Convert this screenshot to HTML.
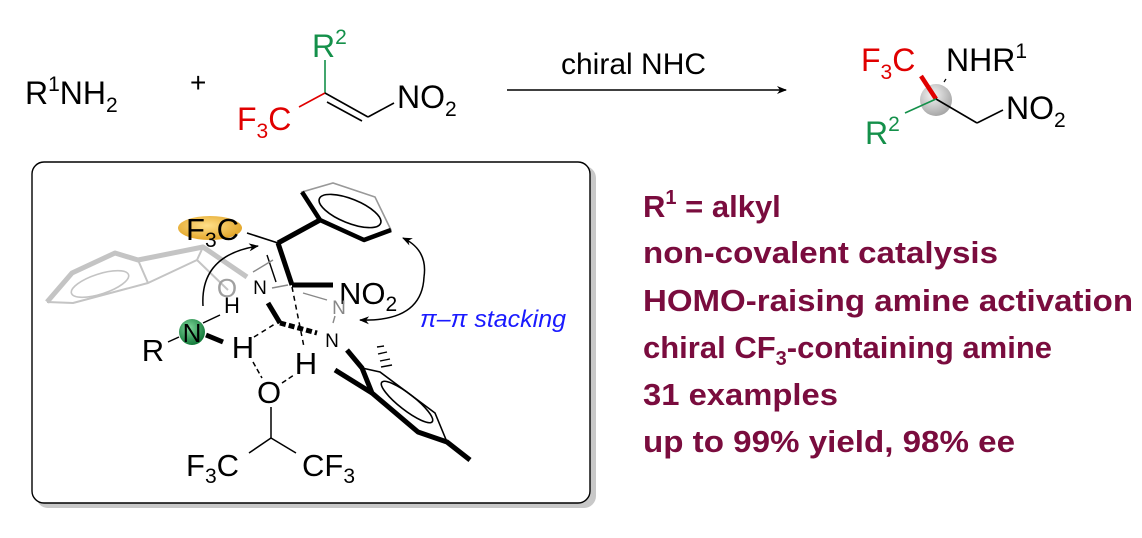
<!DOCTYPE html>
<html><head><meta charset="utf-8"><style>
html,body{margin:0;padding:0;background:#fff;}
svg{display:block;font-family:"Liberation Sans",Arial,sans-serif;}
</style></head><body>
<svg width="1142" height="538" viewBox="0 0 1142 538" xmlns="http://www.w3.org/2000/svg">
<defs>
<radialGradient id="gs" cx="40%" cy="35%" r="65%"><stop offset="0" stop-color="#f4f4f4"/><stop offset="1" stop-color="#a8a8a8"/></radialGradient>
<radialGradient id="gg" cx="40%" cy="35%" r="65%"><stop offset="0" stop-color="#7fd69a"/><stop offset="1" stop-color="#137a3a"/></radialGradient>
<radialGradient id="go" cx="45%" cy="40%" r="65%"><stop offset="0" stop-color="#ffe08a"/><stop offset="1" stop-color="#e0a020"/></radialGradient>
<marker id="ah" markerWidth="10" markerHeight="8" refX="9" refY="4" orient="auto" markerUnits="userSpaceOnUse"><path d="M0,0 L10,4 L0,8 L3,4 z" fill="#000"/></marker>
</defs>

<!-- top reaction -->
<text x="25" y="104" font-size="32">R<tspan font-size="21" dy="-13">1</tspan><tspan dy="13">NH</tspan><tspan font-size="21" dy="8">2</tspan></text>
<text x="190" y="92" font-size="28">+</text>
<text x="312" y="57" font-size="32" fill="#14904a">R<tspan font-size="21" dy="-13">2</tspan></text>
<line x1="325" y1="60" x2="325" y2="93" stroke="#14904a" stroke-width="1.6"/>
<line x1="325" y1="93" x2="299" y2="107" stroke="#e00000" stroke-width="1.6"/>
<line x1="325" y1="93" x2="368" y2="117" stroke="#000" stroke-width="1.6"/>
<line x1="327" y1="102" x2="362" y2="121" stroke="#000" stroke-width="1.6"/>
<line x1="368" y1="117" x2="394" y2="103" stroke="#000" stroke-width="1.6"/>
<text x="397" y="108" font-size="32">NO<tspan font-size="21" dy="8">2</tspan></text>
<text x="237" y="130" font-size="32" fill="#e00000">F<tspan font-size="21" dy="8">3</tspan><tspan dy="-8">C</tspan></text>
<line x1="507" y1="90" x2="786" y2="90" stroke="#000" stroke-width="1.6" marker-end="url(#ah)"/>
<text x="561" y="74" font-size="30">chiral NHC</text>

<circle cx="936" cy="100" r="16" fill="url(#gs)"/>
<text x="861" y="71" font-size="32" fill="#e00000">F<tspan font-size="21" dy="8">3</tspan><tspan dy="-8">C</tspan></text>
<text x="946" y="71" font-size="32">NHR<tspan font-size="21" dy="-13">1</tspan></text>
<line x1="921" y1="76" x2="936" y2="99" stroke="#e00000" stroke-width="4.5"/>
<line x1="946" y1="79" x2="944" y2="82" stroke="#000" stroke-width="1.2"/>
<line x1="936" y1="99" x2="977" y2="123" stroke="#000" stroke-width="1.6"/>
<line x1="977" y1="123" x2="1003" y2="110" stroke="#000" stroke-width="1.6"/>
<line x1="936" y1="99" x2="905" y2="113" stroke="#14904a" stroke-width="1.6"/>
<text x="1006" y="119" font-size="32">NO<tspan font-size="21" dy="8">2</tspan></text>
<text x="865" y="144" font-size="32" fill="#14904a">R<tspan font-size="21" dy="-13">2</tspan></text>

<!-- box -->
<rect x="36" y="166" width="560" height="342" rx="12" fill="#c8c8c8"/>
<rect x="32" y="162" width="558" height="341" rx="12" fill="#fff" stroke="#000" stroke-width="1.4"/>

<!-- naphthalene grey -->
<g stroke="#c4c4c4" fill="none" stroke-linejoin="round">
<path d="M47,302 L72,273 L115,253 L138,260 L203,247 L247,277" stroke-width="5"/>
<path d="M47,302 L73,303 L148,283 L138,260 M148,283 L197,260 L228,290 M197,260 L203,247" stroke-width="2"/>
<ellipse cx="100" cy="284" rx="30" ry="10" transform="rotate(-18 100 284)" stroke-width="1.6"/>
</g>
<text x="227" y="297" font-size="26" fill="#a0a0a0" text-anchor="middle">O</text>

<ellipse cx="210" cy="228" rx="32" ry="12" fill="url(#go)"/>
<text x="186" y="240" font-size="31">F<tspan font-size="21" dy="7">3</tspan><tspan dy="-7">C</tspan></text>
<line x1="247" y1="233" x2="278" y2="243" stroke="#000" stroke-width="1.6"/>

<!-- phenyl -->
<path d="M320,220 L302,192 L333,183 L375,197 L391,230 L364,240 Z" fill="none" stroke="#999" stroke-width="1.6"/>
<path d="M302,192 L320,220 L364,240 L391,230" fill="none" stroke="#000" stroke-width="4.5" stroke-linejoin="round"/>
<ellipse cx="350" cy="211" rx="33" ry="12" transform="rotate(22 350 211)" fill="none" stroke="#000" stroke-width="1.6"/>
<line x1="278" y1="243" x2="320" y2="220" stroke="#000" stroke-width="5"/>
<line x1="278" y1="243" x2="292" y2="285" stroke="#000" stroke-width="5"/>
<line x1="267" y1="255" x2="276" y2="282" stroke="#000" stroke-width="1.4"/>
<line x1="292" y1="285" x2="333" y2="285" stroke="#000" stroke-width="5"/>
<text x="339" y="304" font-size="31">NO<tspan font-size="21" dy="7">2</tspan></text>

<!-- grey dashes -->
<g stroke="#888" stroke-width="1.4">
<line x1="253" y1="272" x2="273" y2="260"/>
<line x1="272" y1="288" x2="288" y2="285"/>
<line x1="303" y1="293" x2="327" y2="300"/>
<line x1="335" y1="316" x2="333" y2="323"/>
</g>
<text x="260" y="294" font-size="19" text-anchor="middle">N</text>
<text x="339" y="314" font-size="19" fill="#888" text-anchor="middle">N</text>
<text x="332" y="347" font-size="19" text-anchor="middle">N</text>

<!-- carbene -->
<path d="M268,303 L280,323" stroke="#000" stroke-width="5"/>
<path d="M280,323 L317,333" stroke="#000" stroke-width="5" stroke-dasharray="6,3"/>
<line x1="254" y1="337" x2="278" y2="322" stroke="#000" stroke-width="1.5" stroke-dasharray="5,4"/>
<line x1="292" y1="287" x2="304" y2="347" stroke="#000" stroke-width="1.5" stroke-dasharray="5,4"/>

<!-- amine -->
<circle cx="192" cy="332" r="13" fill="url(#gg)"/>
<text x="192" y="342" font-size="26" text-anchor="middle">N</text>
<text x="153" y="361" font-size="31" text-anchor="middle">R</text>
<line x1="168" y1="342" x2="179" y2="337" stroke="#000" stroke-width="1.5"/>
<line x1="203" y1="323" x2="220" y2="315" stroke="#000" stroke-width="1.5"/>
<line x1="206" y1="335" x2="223" y2="342" stroke="#000" stroke-width="5"/>
<text x="232" y="313" font-size="22" text-anchor="middle">H</text>
<text x="243" y="358" font-size="31" text-anchor="middle">H</text>
<text x="306" y="374" font-size="31" text-anchor="middle">H</text>

<!-- HFIP -->
<text x="269" y="403" font-size="31" text-anchor="middle">O</text>
<line x1="253" y1="362" x2="262" y2="378" stroke="#000" stroke-width="1.5" stroke-dasharray="5,3"/>
<line x1="282" y1="383" x2="294" y2="375" stroke="#000" stroke-width="1.5" stroke-dasharray="5,3"/>
<line x1="271" y1="407" x2="271" y2="438" stroke="#000" stroke-width="1.5"/>
<line x1="271" y1="438" x2="249" y2="453" stroke="#000" stroke-width="1.5"/>
<line x1="271" y1="438" x2="296" y2="453" stroke="#000" stroke-width="1.5"/>
<text x="186" y="476" font-size="31">F<tspan font-size="21" dy="7">3</tspan><tspan dy="-7">C</tspan></text>
<text x="302" y="476" font-size="31">CF<tspan font-size="21" dy="7">3</tspan></text>

<!-- mesityl -->
<path d="M362,368 L380,372 L435,413 L447,442" fill="none" stroke="#000" stroke-width="1.6"/>
<path d="M347,350 L362,368 L372,393 L418,432 L447,442 L470,460" fill="none" stroke="#000" stroke-width="5" stroke-linejoin="round"/>
<line x1="335" y1="370" x2="372" y2="393" stroke="#000" stroke-width="5"/>
<ellipse cx="407" cy="402" rx="32" ry="8" transform="rotate(38 407 402)" fill="none" stroke="#000" stroke-width="1.6"/>
<g stroke="#000" stroke-width="1.4"><line x1="377" y1="347" x2="384" y2="346"/><line x1="378" y1="354" x2="387" y2="352"/><line x1="380" y1="361" x2="390" y2="359"/><line x1="381" y1="367" x2="392" y2="365"/></g>

<!-- curved arrows -->
<path d="M203,306 Q200,255 258,246" fill="none" stroke="#000" stroke-width="1.5" marker-end="url(#ah)"/>
<path d="M424,277 Q428,250 403,238" fill="none" stroke="#000" stroke-width="1.5" marker-end="url(#ah)"/>
<path d="M424,277 Q422,322 360,320" fill="none" stroke="#000" stroke-width="1.5" marker-end="url(#ah)"/>
<text x="420" y="327" font-size="24" font-style="italic" fill="#1a1aff" textLength="146" lengthAdjust="spacingAndGlyphs">π–π stacking</text>

<!-- right text -->
<g font-size="31" font-weight="bold" fill="#7a0c3e">
<text x="643" y="217">R<tspan font-size="20" dy="-13">1</tspan><tspan dy="13"> = alkyl</tspan></text>
<text x="643" y="263" textLength="355" lengthAdjust="spacingAndGlyphs">non-covalent catalysis</text>
<text x="643" y="311" textLength="490" lengthAdjust="spacingAndGlyphs">HOMO-raising amine activation</text>
<text x="643" y="358">chiral CF<tspan font-size="20" dy="7">3</tspan><tspan dy="-7">-containing amine</tspan></text>
<text x="643" y="405" textLength="195" lengthAdjust="spacingAndGlyphs">31 examples</text>
<text x="643" y="452" textLength="372" lengthAdjust="spacingAndGlyphs">up to 99% yield, 98% ee</text>
</g>
</svg>
</body></html>
